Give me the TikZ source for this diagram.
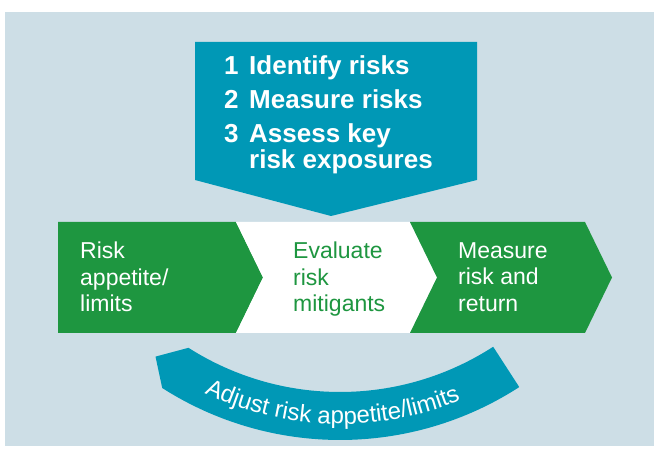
\documentclass[tikz,border=0pt]{standalone}
\usepackage{fontspec}
\setmainfont{Liberation Sans}
\usetikzlibrary{calc}
\usetikzlibrary{decorations.text}
\definecolor{bgblue}{RGB}{205,222,230}
\definecolor{riskteal}{RGB}{0,152,182}
\definecolor{riskgreen}{RGB}{30,150,64}

\begin{document}
\begin{tikzpicture}[x=1pt, y=1pt,
    steptext/.style={text=white, align=left, inner sep=0pt, anchor=north west,
                     font=\fontsize{23}{26.5}\selectfont}]
    \useasboundingbox[fill=white] (0,0) rectangle (654,457);
    % Background
    \fill[bgblue] (5,11) rectangle (654,445);

    % Top arrow
    \fill[riskteal] (195,415) -- (477,415) -- (477,277) -- (331,241) -- (195,277) -- cycle;
    \node[anchor=north west, inner sep=0pt, text=white, align=left,
          font=\bfseries\fontsize{26}{26}\selectfont] (steps) at (224,402)
          {\makebox[25pt][l]{1}Identify risks\\[8pt]
           \makebox[25pt][l]{2}Measure risks\\[8pt]
           \makebox[25pt][l]{3}Assess key\\
           \hspace*{25pt}risk exposures};

    % Chevron band
    \fill[riskgreen] (58,235) -- (236,235) -- (263,179.5) -- (236,124) -- (58,124) -- cycle;
    \fill[white] (236,235) -- (410,235) -- (437,179.5) -- (410,124) -- (236,124) -- (263,179.5) -- cycle;
    \fill[riskgreen] (410,235) -- (585,235) -- (612,179.5) -- (585,124) -- (410,124) -- (437,179.5) -- cycle;
    \node[steptext] (appetite) at (80,215) {Risk\\appetite/\\limits};
    \node[steptext, text=riskgreen] (mitigants) at (293,215) {Evaluate\\risk\\mitigants};
    \node[steptext] (return) at (458,215) {Measure\\risk and\\return};

    % Feedback arc
    \coordinate (hub) at (340,347);
    \fill[riskteal] ([shift={(302.9:282)}]hub) arc[start angle=302.9, end angle=237.5, radius=282]
        -- ([shift={(233.2:308)}]hub) -- ([shift={(237.4:330)}]hub)
        arc[start angle=237.4, end angle=302.9, radius=330] -- cycle;
    \path[decorate, decoration={text along path, text align=center, text color=white,
          text={|\fontsize{24}{24}\selectfont|Adjust risk appetite/limits}}]
        ([shift={(235:314)}]hub) arc[start angle=235, end angle=302, radius=314];
\end{tikzpicture}
\end{document}
